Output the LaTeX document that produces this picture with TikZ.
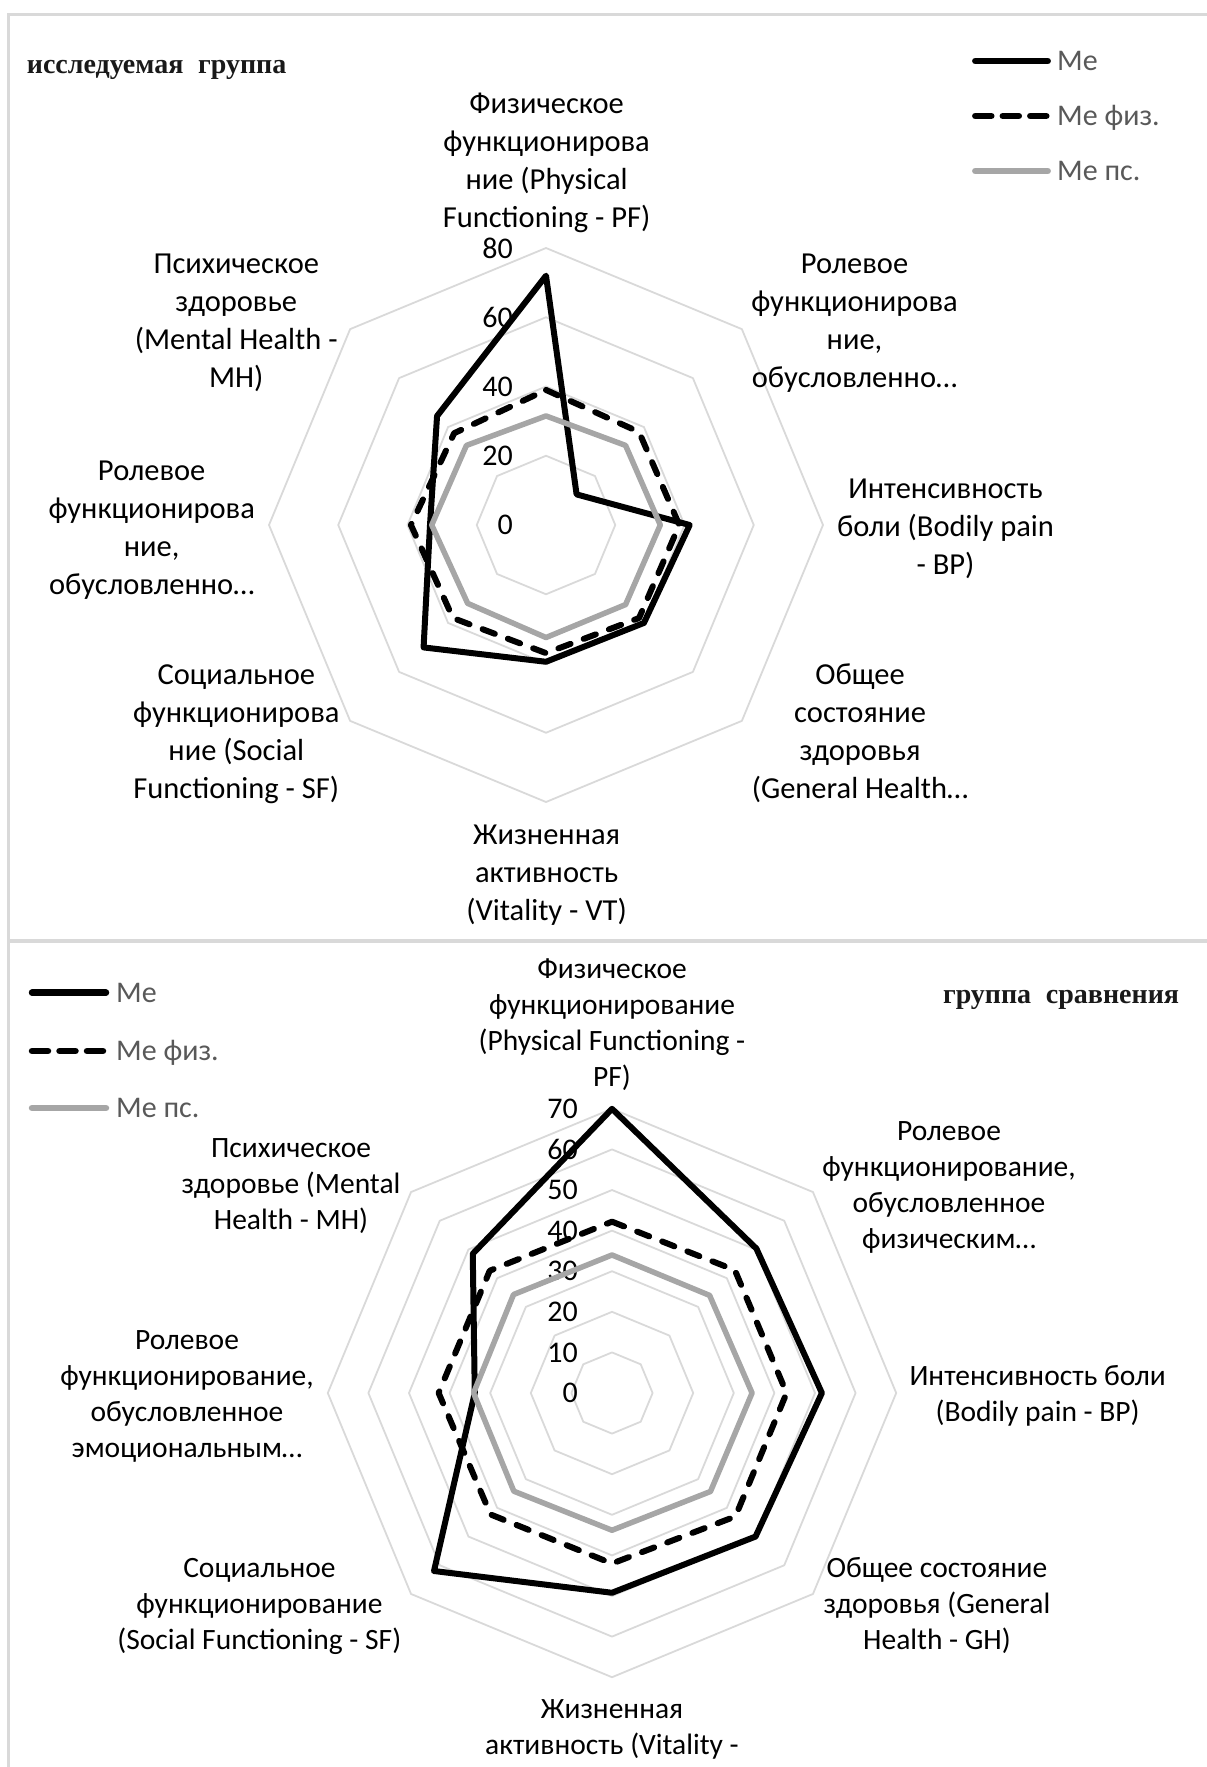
\documentclass[tikz,border=0pt]{standalone}
\usepackage{fontspec}
\setmainfont{Carlito}
\newfontfamily\titlefont{Liberation Serif}
\definecolor{gridc}{HTML}{D9D9D9}
\definecolor{psc}{HTML}{A6A6A6}
\definecolor{legc}{HTML}{595959}
\definecolor{framec}{HTML}{D9D9D9}
\newcommand\fl{\rule{0pt}{24pt}}
\tikzset{
  radargrid/.style={draw=gridc, line width=1.8pt, line join=round},
  meline/.style={draw=black, line width=6pt, line join=round},
  fizline/.style={draw=black, line width=6pt, line join=round, line cap=round, dash pattern=on 13pt off 14pt},
  psline/.style={draw=psc, line width=5.5pt, line join=round},
  legme/.style={draw=black, line width=6.5pt, line cap=round},
  legfiz/.style={draw=black, line width=6.5pt, line cap=round, dash pattern=on 16pt off 11.5pt},
  legps/.style={draw=psc, line width=6.5pt, line cap=round},
  legtext/.style={font=\fontsize{30}{36}\selectfont, text=legc, inner sep=0pt, anchor=base west},
  labtop/.style={font=\fontsize{30.5}{38}\selectfont, align=center, inner sep=0pt, anchor=north},
  labbot/.style={font=\fontsize{29.5}{36}\selectfont, align=center, inner sep=0pt, anchor=north},
  tick/.style={font=\fontsize{30}{36}\selectfont, inner sep=0pt, anchor=east},
  grouptitle/.style={font=\titlefont\bfseries\fontsize{28}{34}\selectfont, text=black!90, inner sep=0pt},
  frame/.style={draw=framec, line width=3pt},
}
\begin{document}
\begin{tikzpicture}[x=1pt, y=-1pt]
\useasboundingbox (0,0) rectangle (1207,1767);
% frame
\draw[frame] (1207,14.3) -- (8,14.3) -- (8,1767);
\draw[framec, line width=4pt] (8,941) -- (1207,941);

% ===================== TOP CHART =====================
\node[grouptitle, anchor=base west] (ttitle) at (26.7,73.5) {исследуемая\; группа};
\begin{scope}[shift={(546,525)}, scale=3.4625]
  \foreach \r in {20,40,60,80}
    \draw[radargrid] (-90:\r) -- (-45:\r) -- (0:\r) -- (45:\r) -- (90:\r) -- (135:\r) -- (180:\r) -- (225:\r) -- cycle;
\end{scope}
\foreach \v in {0,20,40,60,80}
  \node[tick] (tt\v) at (513,{525-\v*3.4625}) {\v};
\begin{scope}[shift={(546,525)}, scale=3.4625]
  \draw[meline] (-90:72) -- (-45:12.5) -- (0:41.5) -- (45:40) -- (90:39.5) -- (135:50) -- (180:33.5) -- (225:44.5) -- cycle;
  \draw[fizline] (-90:39) -- (-45:38) -- (0:38.5) -- (45:38) -- (90:37) -- (135:38) -- (180:39) -- (225:37.5) -- cycle;
  \draw[psline] (-90:31.5) -- (-45:32.5) -- (0:33) -- (45:32.5) -- (90:32.5) -- (135:32) -- (180:33) -- (225:32.5) -- cycle;
\end{scope}
% labels
\node[labtop] (tPF) at (546.6,88.9) {\fl Физическое\\функционирова\\ние (Physical\\Functioning - PF)};
\node[labtop] (tRP) at (854.5,249.6) {\fl Ролевое\\функционирова\\ние,\\обусловленно…};
\node[labtop] (tBP) at (945.5,474.4) {\fl Интенсивность\\боли (Bodily pain\\- BP)};
\node[labtop] (tGH) at (860,660.3) {\fl Общее\\состояние\\здоровья\\(General Health…};
\node[labtop] (tVT) at (546.6,820.3) {\fl Жизненная\\активность\\(Vitality - VT)};
\node[labtop] (tSF) at (236.3,660) {\fl Социальное\\функционирова\\ние (Social\\Functioning - SF)};
\node[labtop] (tRE) at (151.7,455.8) {\fl Ролевое\\функционирова\\ние,\\обусловленно…};
\node[labtop] (tMH) at (236.3,249.6) {\fl Психическое\\здоровье\\(Mental Health -\\MH)};
% legend
\draw[legme] (975.3,61) -- (1047.7,61);
\draw[legfiz] (975.3,116) -- (1047.7,116);
\draw[legps] (975.3,171) -- (1047.7,171);
\node[legtext] (tl1) at (1057,70.5) {Me};
\node[legtext] (tl2) at (1057,125.5) {Me физ.};
\node[legtext] (tl3) at (1057,180.5) {Me пс.};

% ===================== BOTTOM CHART =====================
\node[grouptitle, anchor=base east] (btitle) at (1179.3,1003) {группа\; сравнения};
\begin{scope}[shift={(612,1393)}, scale=4.06]
  \foreach \r in {10,20,30,40,50,60,70}
    \draw[radargrid] (-90:\r) -- (-45:\r) -- (0:\r) -- (45:\r) -- (90:\r) -- (135:\r) -- (180:\r) -- (225:\r) -- cycle;
\end{scope}
\foreach \v in {0,10,20,30,40,50,60,70}
  \node[tick] (bt\v) at (578,{1393-\v*4.06}) {\v};
\begin{scope}[shift={(612,1393)}, scale=4.06]
  \draw[meline] (-90:70) -- (-45:50.3) -- (0:51.7) -- (45:50) -- (90:49.2) -- (135:62) -- (180:33.8) -- (225:48.5) -- cycle;
  \draw[fizline] (-90:42.2) -- (-45:42.8) -- (0:43) -- (45:43) -- (90:42) -- (135:42.3) -- (180:42.7) -- (225:42.6) -- cycle;
  \draw[psline] (-90:34) -- (-45:34) -- (0:34.5) -- (45:34.3) -- (90:33.8) -- (135:34.2) -- (180:34.1) -- (225:34.3) -- cycle;
\end{scope}
% labels
\node[labbot] (bPF) at (612,954) {\fl Физическое\\функционирование\\(Physical Functioning -\\PF)};
\node[labbot] (bRP) at (949,1115.8) {\fl Ролевое\\функционирование,\\обусловленное\\физическим…};
\node[labbot] (bBP) at (1037.7,1361.4) {\fl Интенсивность боли\\(Bodily pain - BP)};
\node[labbot] (bGH) at (937,1553) {\fl Общее состояние\\здоровья (General\\Health - GH)};
\node[labbot] (bVT) at (612,1694.6) {\fl Жизненная\\активность (Vitality -};
\node[labbot] (bSF) at (259.4,1553) {\fl Социальное\\функционирование\\(Social Functioning - SF)};
\node[labbot] (bRE) at (187,1325.1) {\fl Ролевое\\функционирование,\\обусловленное\\эмоциональным…};
\node[labbot] (bMH) at (291,1132.9) {\fl Психическое\\здоровье (Mental\\Health - MH)};
% legend
\draw[legme] (32,992.7) -- (106,992.7);
\draw[legfiz] (32,1051) -- (106,1051);
\draw[legps] (32,1108) -- (106,1108);
\node[legtext] (bl1) at (116,1002.2) {Me};
\node[legtext] (bl2) at (116,1060.5) {Me физ.};
\node[legtext] (bl3) at (116,1117.5) {Me пс.};
\end{tikzpicture}
\end{document}
